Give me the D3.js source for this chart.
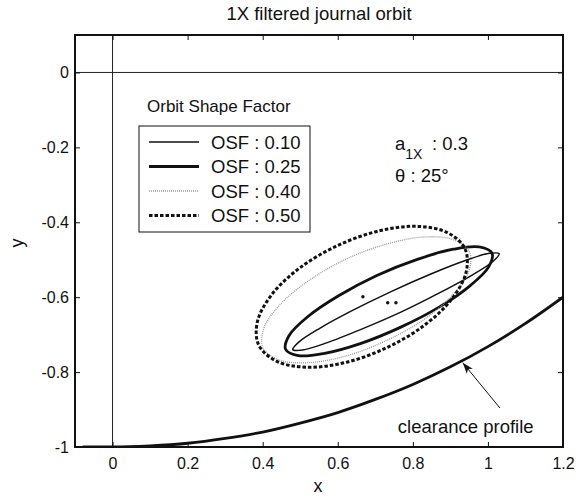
<!DOCTYPE html>
<html><head><meta charset="utf-8">
<script src="https://cdn.jsdelivr.net/npm/d3@7"></script>
<style>
body{margin:0;background:#fff}
text{font-family:"Liberation Sans",Arial,Helvetica,sans-serif;fill:#111}
</style>
</head><body>
<svg id="chart" width="584" height="497"></svg>
<script>
// ---------- data ----------
const xTicks = [0, 0.2, 0.4, 0.6, 0.8, 1, 1.2];
const yTicks = [0, -0.2, -0.4, -0.6, -0.8, -1];
const osfLabels = ["OSF : 0.10", "OSF : 0.25", "OSF : 0.40", "OSF : 0.50"];

const orbitOSF010 = [[1.030,-0.484],[1.004,-0.483],[0.940,-0.502],[0.848,-0.538],[0.742,-0.585],[0.638,-0.636],[0.552,-0.683],[0.496,-0.720],[0.480,-0.740],[0.506,-0.741],[0.570,-0.722],[0.662,-0.686],[0.768,-0.640],[0.872,-0.588],[0.958,-0.541],[1.014,-0.504]];
const orbitOSF025 = [[1.011,-0.483],[0.977,-0.466],[0.908,-0.472],[0.812,-0.499],[0.704,-0.542],[0.601,-0.597],[0.519,-0.653],[0.470,-0.703],[0.461,-0.739],[0.495,-0.756],[0.565,-0.750],[0.660,-0.724],[0.768,-0.680],[0.871,-0.626],[0.953,-0.569],[1.002,-0.519]];
const orbitOSF040 = [[0.951,-0.479],[0.910,-0.447],[0.834,-0.439],[0.734,-0.457],[0.625,-0.497],[0.524,-0.555],[0.446,-0.620],[0.403,-0.683],[0.401,-0.735],[0.442,-0.767],[0.518,-0.775],[0.618,-0.758],[0.727,-0.717],[0.829,-0.660],[0.906,-0.594],[0.949,-0.531]];
const orbitOSF050 = [[0.939,-0.471],[0.893,-0.428],[0.813,-0.411],[0.710,-0.423],[0.600,-0.462],[0.500,-0.521],[0.425,-0.592],[0.386,-0.665],[0.389,-0.727],[0.435,-0.770],[0.515,-0.787],[0.618,-0.775],[0.728,-0.736],[0.828,-0.677],[0.903,-0.606],[0.942,-0.533]];
const orbitCentres = [[0.667,-0.599],[0.733,-0.615],[0.755,-0.615]];

const clearanceX = [-0.08, 0, 0.1, 0.2, 0.3, 0.4, 0.5, 0.6, 0.7, 0.8, 0.9, 1.0, 1.1, 1.2];
const clearanceY = [-1, -1, -0.997, -0.990, -0.977, -0.960, -0.936, -0.908, -0.873, -0.833, -0.786, -0.732, -0.670, -0.600];

// ---------- layout ----------
const svg = d3.select("#chart");
const L = 75, R = 563, T = 35, B = 447;
const x = d3.scaleLinear().domain([-0.1, 1.2]).range([L, R]);
const y = d3.scaleLinear().domain([-1, 0.1]).range([B, T]);
const fmt = d => String(+d.toFixed(1));
const FS = 16, FL = 18.5;

svg.append("defs").append("clipPath").attr("id","clip")
  .append("rect").attr("x",L).attr("y",T).attr("width",R-L).attr("height",B-T);
const marker = svg.select("defs").append("marker").attr("id","arr")
  .attr("viewBox","0 0 10 10").attr("refX",10).attr("refY",5)
  .attr("markerWidth",11).attr("markerHeight",11).attr("markerUnits","userSpaceOnUse")
  .attr("orient","auto");
marker.append("path").attr("d","M0,1.5 L10,5 L0,8.5 L2.5,5 Z").attr("fill","#111");

// zero lines
const plot = svg.append("g").attr("clip-path","url(#clip)");
plot.append("line").attr("x1",x(0)).attr("x2",x(0)).attr("y1",T).attr("y2",B).attr("stroke","#222").attr("stroke-width",1);
plot.append("line").attr("x1",L).attr("x2",R).attr("y1",y(0)).attr("y2",y(0)).attr("stroke","#222").attr("stroke-width",1);

// axes
function styleAxis(g){ g.select(".domain").remove(); g.selectAll("line").attr("stroke","#111").attr("stroke-width",1);
  g.selectAll("text").attr("font-size",FS).attr("font-family","Liberation Sans, Arial, sans-serif").attr("fill","#111"); }
svg.append("g").attr("transform",`translate(0,${B})`)
  .call(d3.axisBottom(x).tickValues(xTicks).tickFormat(fmt).tickSizeInner(-5).tickSizeOuter(0).tickPadding(11)).call(styleAxis);
svg.append("g").attr("transform",`translate(0,${T})`)
  .call(d3.axisTop(x).tickValues(xTicks).tickFormat("").tickSizeInner(-5).tickSizeOuter(0)).call(styleAxis);
svg.append("g").attr("transform",`translate(${L},0)`)
  .call(d3.axisLeft(y).tickValues(yTicks).tickFormat(fmt).tickSizeInner(-5).tickSizeOuter(0).tickPadding(6)).call(styleAxis);
svg.append("g").attr("transform",`translate(${R},0)`)
  .call(d3.axisRight(y).tickValues(yTicks).tickFormat("").tickSizeInner(-5).tickSizeOuter(0)).call(styleAxis);

// orbits
const closed = d3.line().x(d=>x(d[0])).y(d=>y(d[1])).curve(d3.curveCatmullRomClosed.alpha(0.5));
const styles = [
  {w:1.5, c:"#111", dash:null},
  {w:2.8, c:"#111", dash:null},
  {w:1.3, c:"#999", dash:"1,1"},
  {w:3, c:"#111", dash:"3.5,2"}
];
const orbits = [orbitOSF010, orbitOSF025, orbitOSF040, orbitOSF050];
orbits.forEach((o,i)=>{
  plot.append("path").attr("d",closed(o)).attr("fill","none")
    .attr("stroke",styles[i].c).attr("stroke-width",styles[i].w)
    .attr("stroke-dasharray",styles[i].dash);
});
plot.selectAll("circle.ctr").data(orbitCentres).join("circle").attr("class","ctr")
  .attr("cx",d=>x(d[0])).attr("cy",d=>y(d[1])).attr("r",1.7).attr("fill","#111");

// clearance profile
const clearance = clearanceX.map((v,i)=>[v, clearanceY[i]]);
plot.append("path").attr("d", d3.line().x(d=>x(d[0])).y(d=>y(d[1])).curve(d3.curveMonotoneX)(clearance))
  .attr("fill","none").attr("stroke","#111").attr("stroke-width",2.8);

// frame
svg.append("rect").attr("x",L).attr("y",T).attr("width",R-L).attr("height",B-T)
  .attr("fill","none").attr("stroke","#111").attr("stroke-width",2);

// arrow + label
svg.append("line").attr("x1",x(1.032)).attr("y1",y(-0.896)).attr("x2",x(0.933)).attr("y2",y(-0.775))
  .attr("stroke","#111").attr("stroke-width",1).attr("marker-end","url(#arr)");
svg.append("text").attr("x",x(0.76)).attr("y",y(-0.963)).attr("font-size",FL).text("clearance profile");

// titles
svg.append("text").attr("x",(L+R)/2).attr("y",20).attr("text-anchor","middle").attr("font-size",18.5).text("1X filtered journal orbit");
svg.append("text").attr("x",318).attr("y",492).attr("text-anchor","middle").attr("font-size",18).text("x");
svg.append("text").attr("transform","translate(23,243) rotate(-90)").attr("text-anchor","middle").attr("font-size",18).text("y");

// annotation
const ann = svg.append("text").attr("x",395).attr("y",150).attr("font-size",FL);
ann.append("tspan").text("a");
ann.append("tspan").attr("dy",9).attr("font-size",14).text("1X");
ann.append("tspan").attr("dy",-9).attr("x",432).text(": 0.3");
svg.append("text").attr("x",395).attr("y",182).attr("font-size",FL).text("θ : 25°");

// legend
svg.append("text").attr("x",147).attr("y",112).attr("font-size",17).text("Orbit Shape Factor");
svg.append("rect").attr("x",139).attr("y",126).attr("width",171).attr("height",106)
  .attr("fill","#fff").attr("stroke","#111").attr("stroke-width",1);
osfLabels.forEach((lab,i)=>{
  const yy = 142 + i*24.5;
  svg.append("line").attr("x1",149).attr("x2",199).attr("y1",yy).attr("y2",yy)
    .attr("stroke",styles[i].c).attr("stroke-width",styles[i].w).attr("stroke-dasharray",styles[i].dash);
  svg.append("text").attr("x",211).attr("y",yy+6.5).attr("font-size",FL).text(lab);
});
</script>
</body></html>
